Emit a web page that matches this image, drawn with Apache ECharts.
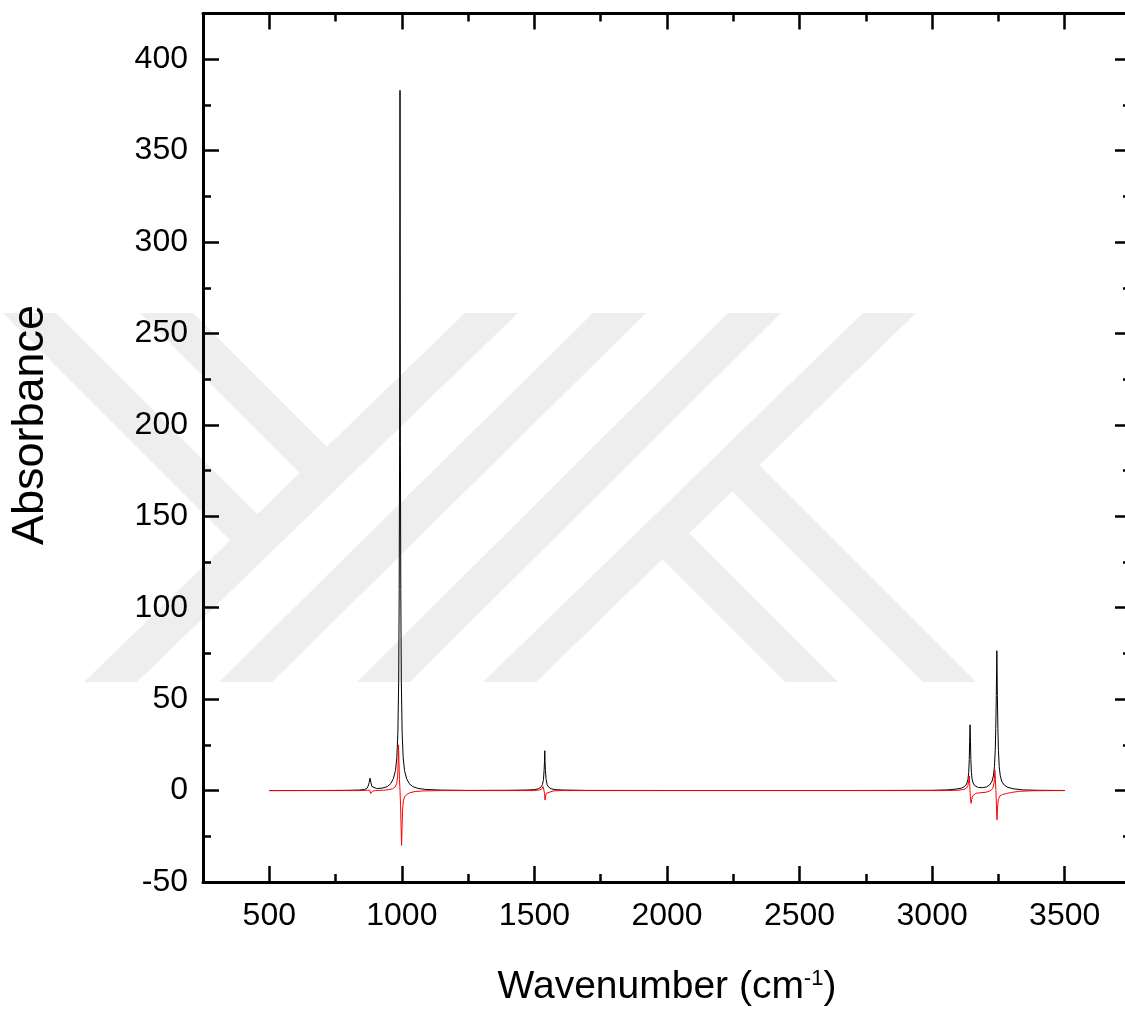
<!DOCTYPE html>
<html>
<head>
<meta charset="utf-8">
<script src="https://cdn.jsdelivr.net/npm/echarts@6/dist/echarts.min.js"></script>
<style>
html,body{margin:0;padding:0;background:#fff;}
#chart{width:1125px;height:1014px;}
</style>
</head>
<body>
<div id="chart"></div>
<script>
// tick labels
var xMajorTicks = [500, 1000, 1500, 2000, 2500, 3000, 3500];
var yMajorTicks = [-50, 0, 50, 100, 150, 200, 250, 300, 350, 400];

// black spectrum (wavenumber / absorbance)
var blackWn = [500, 700, 800, 840, 860, 868, 873, 877, 880, 883, 887, 893, 905, 925, 945, 958, 968, 976, 981, 985, 988, 990, 991.5, 993, 994.5, 996, 998, 1001, 1005, 1010, 1018, 1028, 1041, 1060, 1090, 1150, 1250,
  1400, 1470, 1500, 1515, 1524, 1530, 1534, 1536.5, 1538, 1539, 1540, 1541.5, 1544, 1548, 1554, 1563, 1580, 1610, 1700, 2000, 2700,
  3000, 3060, 3090, 3110, 3122, 3130, 3135, 3138, 3140, 3141.5, 3143, 3144.5, 3146, 3148, 3151, 3156, 3163, 3175, 3190, 3205, 3216, 3225, 3231, 3235, 3238, 3240, 3242, 3244, 3246, 3248, 3250, 3253, 3257, 3263, 3272, 3285, 3305, 3340, 3400, 3500];
var blackAbs = [0, 0.05, 0.15, 0.3, 0.6, 1.2, 2.5, 4.5, 6.8, 4.5, 2.2, 1.3, 1.1, 1.3, 2.2, 3.8, 6.5, 11, 18, 32, 60, 110, 190, 383, 190, 110, 60, 32, 18, 11, 6.5, 3.8, 2.2, 1.2, 0.6, 0.25, 0.1,
  0.15, 0.3, 0.5, 1.0, 1.8, 3.2, 6, 11, 16, 21.8, 16, 11, 6, 3.2, 1.8, 1.0, 0.5, 0.3, 0.1, 0.05, 0.05,
  0.15, 0.4, 0.8, 1.3, 2.2, 3.6, 6, 10, 17, 27, 36, 27, 17, 10, 6, 3.6, 2.4, 1.7, 1.6, 2.0, 3.0, 4.8, 8, 13, 22, 34, 52, 76.5, 52, 34, 22, 13, 8, 4.8, 3.0, 1.8, 1.0, 0.4, 0.15, 0.05];

// red spectrum
var redWn = [500, 840, 870, 876, 879, 882, 885, 890, 900, 930, 950, 965, 975, 981, 984, 986, 987.5, 989, 991, 993, 995, 997, 999, 1001, 1003, 1006, 1010, 1018, 1030, 1050, 1080, 1150,
  1500, 1520, 1528, 1533, 1536, 1538, 1540, 1542, 1545, 1552, 1570, 1600,
  3050, 3100, 3120, 3130, 3135, 3138, 3140, 3141.5, 3143, 3145, 3147, 3149, 3152, 3157, 3165, 3180, 3200, 3215, 3225, 3230, 3234, 3236.5, 3238.5, 3240.5, 3242.5, 3244.5, 3246.5, 3249.5, 3255, 3265, 3280, 3300, 3330, 3380, 3450, 3500];
var redAbs = [0, 0, 0.2, 0.5, 0.2, -1.6, -0.8, -0.3, 0, 0.2, 0.5, 1.0, 2.0, 4.0, 8, 15, 25, 16, 6, 0, -8, -19, -30, -19, -10, -5.5, -3.5, -2.2, -1.2, -0.5, -0.2, 0,
  0, 0.4, 1.0, 2.2, 1.2, -1.5, -5.2, -3, -1.5, -0.6, -0.2, 0,
  0, 0.2, 0.6, 1.4, 2.8, 5.5, 8, 4, -1, -5, -7, -5, -3, -2, -1.5, -1.2, -1.0, -0.4, 0.6, 1.8, 4.5, 11.2, 6, 0, -8, -16, -10, -5, -3, -2.2, -1.6, -1.0, -0.4, -0.1, 0, 0];

function pairs(xs, ys) { return xs.map(function (x, i) { return [x, ys[i]]; }); }

// background watermark (diagonal bands)
var WM_TOP = 313, WM_BOT = 682, WM_W = 53, WM_COLOR = '#eeeeee';
var wmSlash = [[84, 465], [219, 593], [357, 728], [483, 863]];
var wmYArms = [3, 140];
var wmKLegs = [785, 923];

function cross(p, d, a, b) {
  var ex = b[0] - a[0], ey = b[1] - a[1];
  var den = d[0] * ey - d[1] * ex;
  var t = ((a[0] - p[0]) * ey - (a[1] - p[1]) * ex) / den;
  return [p[0] + t * d[0], p[1] + t * d[1]];
}
function watermark() {
  var els = [];
  wmSlash.forEach(function (s) {
    els.push([[s[0], WM_BOT], [s[0] + WM_W, WM_BOT], [s[1] + WM_W, WM_TOP], [s[1], WM_TOP]]);
  });
  var b1a = [wmSlash[0][0], WM_BOT], b1b = [wmSlash[0][1], WM_TOP];
  wmYArms.forEach(function (x0) {
    els.push([[x0, WM_TOP], [x0 + WM_W, WM_TOP],
      cross([x0 + WM_W, WM_TOP], [1, 1], b1a, b1b), cross([x0, WM_TOP], [1, 1], b1a, b1b)]);
  });
  var b4a = [wmSlash[3][0] + WM_W, WM_BOT], b4b = [wmSlash[3][1] + WM_W, WM_TOP];
  wmKLegs.forEach(function (x0) {
    els.push([[x0, WM_BOT], [x0 + WM_W, WM_BOT],
      cross([x0 + WM_W, WM_BOT], [-1, -1], b4a, b4b), cross([x0, WM_BOT], [-1, -1], b4a, b4b)]);
  });
  return els.map(function (pts) {
    return { type: 'polygon', z: -10, silent: true, shape: { points: pts }, style: { fill: WM_COLOR } };
  });
}

var FONT = '"Liberation Sans", Arial, sans-serif';
var tickStyle = { color: '#000', width: 2.5 };

function minorAxis(pos, min, max, step) {
  return {
    type: 'value', position: pos, min: min, max: max, interval: step,
    axisLine: { show: true, onZero: false, lineStyle: { color: '#000', width: 3 } },
    axisTick: { show: true, inside: true, length: 8, lineStyle: tickStyle },
    axisLabel: { show: false },
    splitLine: { show: false }
  };
}
function majorAxis(pos, min, max, ticks, showLabel, extra) {
  var ax = {
    type: 'value', position: pos, min: min, max: max,
    axisLine: { show: false, onZero: false },
    axisTick: { show: true, inside: true, length: 16, customValues: ticks, lineStyle: tickStyle },
    axisLabel: { show: showLabel, customValues: ticks, color: '#000', fontSize: 32, fontFamily: FONT,
      formatter: function (v) { return String(v); } },
    splitLine: { show: false }
  };
  for (var k in extra) ax[k] = extra[k];
  return ax;
}

var yTitle = {
  type: 'text', x: 31, y: 425, rotation: Math.PI / 2, silent: true,
  style: { text: 'Absorbance', fill: '#000', font: '45px ' + FONT, textAlign: 'center', textVerticalAlign: 'middle' }
};

var chart = echarts.init(document.getElementById('chart'));
var option = {
  backgroundColor: '#fff',
  animation: false,
  grid: { left: 203, right: -6, top: 13.5, bottom: 132, containLabel: false, outerBoundsMode: 'none' },
  graphic: { elements: watermark().concat([yTitle]) },
  xAxis: [
    minorAxis('bottom', 250, 3750, 250),
    majorAxis('bottom', 250, 3750, xMajorTicks, true, {
      name: 'Wavenumber (cm{sup|-1})', nameLocation: 'middle', nameGap: 86,
      nameTextStyle: { color: '#000', fontSize: 39, fontFamily: FONT,
        rich: { sup: { fontSize: 22, verticalAlign: 'top', color: '#000', fontFamily: FONT } } }
    }),
    minorAxis('top', 250, 3750, 250),
    majorAxis('top', 250, 3750, xMajorTicks, false, {})
  ],
  yAxis: [
    minorAxis('left', -50, 425, 25),
    majorAxis('left', -50, 425, yMajorTicks, true, {}),
    minorAxis('right', -50, 425, 25),
    majorAxis('right', -50, 425, yMajorTicks, false, {})
  ],
  series: [
    { type: 'line', name: 'black', data: pairs(blackWn, blackAbs), xAxisIndex: 0, yAxisIndex: 0,
      symbol: 'none', lineStyle: { color: '#000', width: 1 }, z: 3 },
    { type: 'line', name: 'red', data: pairs(redWn, redAbs), xAxisIndex: 0, yAxisIndex: 0,
      symbol: 'none', lineStyle: { color: '#ff0000', width: 1 }, z: 4 }
  ]
};
option.xAxis[1].axisLabel.margin = 18;
option.yAxis[1].axisLabel.margin = 15;
chart.setOption(option);
</script>
</body>
</html>
